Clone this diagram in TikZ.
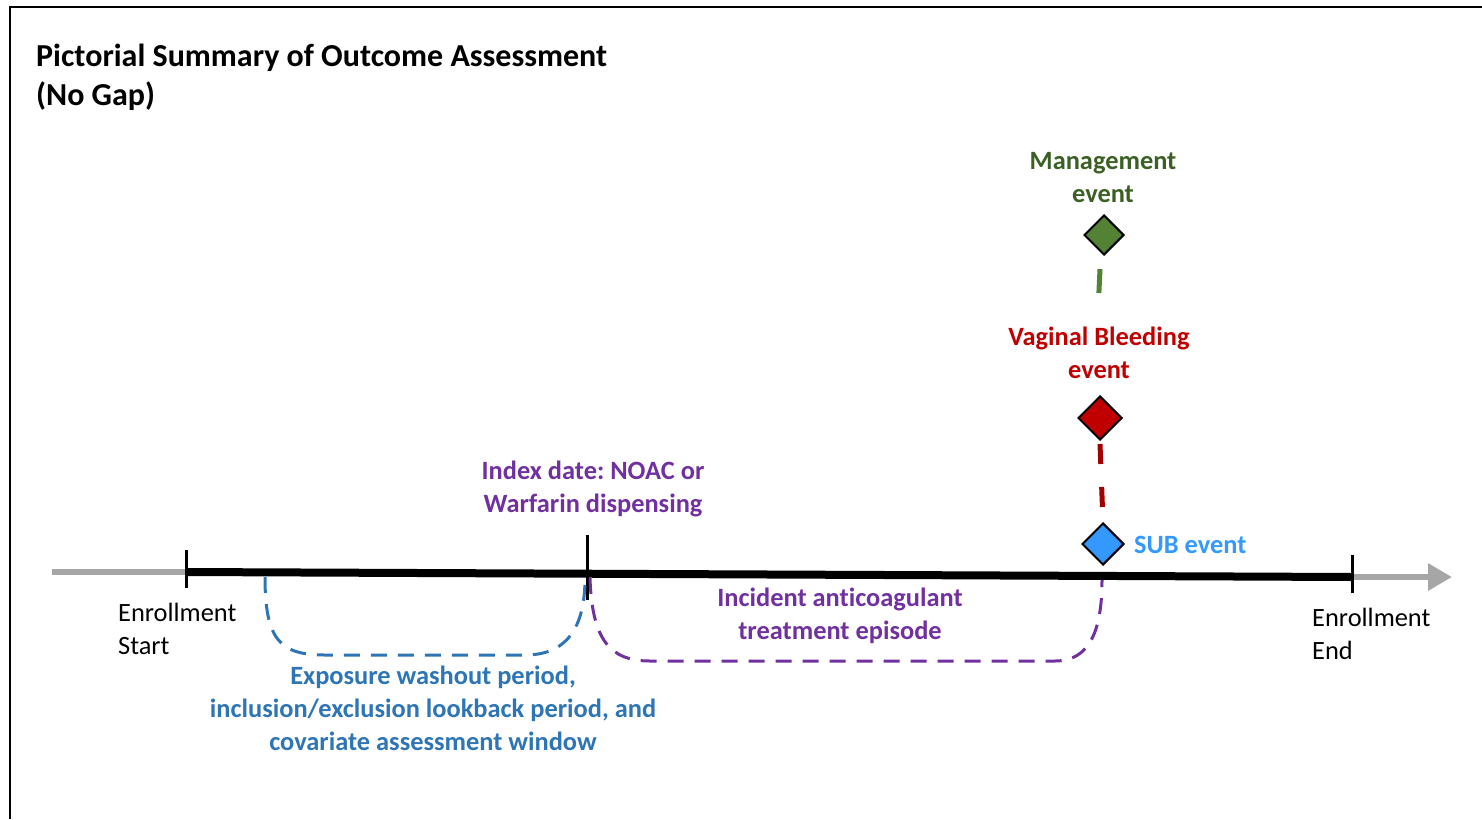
\documentclass[tikz,border=0pt]{standalone}
\usepackage{fontspec}
\setmainfont{Carlito}[Ligatures=NoCommon]
\frenchspacing
\usetikzlibrary{shapes.geometric,arrows.meta}
\definecolor{grn}{HTML}{3B5F24}
\definecolor{grnfill}{HTML}{548235}
\definecolor{rd}{HTML}{C00000}
\definecolor{rddash}{HTML}{A00000}
\definecolor{pur}{HTML}{7030A0}
\definecolor{blu}{HTML}{2E75B6}
\definecolor{sub}{HTML}{3399FF}
\definecolor{gry}{HTML}{A6A6A6}
\tikzset{
  lbl/.style={inner sep=0pt, align=center, font=\fontsize{26.4}{33}\selectfont\bfseries},
  plain/.style={inner sep=0pt, align=left, font=\fontsize{26.4}{33}\selectfont},
  evt/.style={diamond, draw=black, line width=2pt, inner sep=0pt, minimum width=40pt, minimum height=40pt},
  tick/.style={line width=3pt},
  win/.style={line width=3pt, dash pattern=on 16pt off 11pt},
}
\begin{document}
\begin{tikzpicture}[x=1pt,y=-1pt]
\useasboundingbox (0,0) rectangle (1482,819);
% frame
\draw[line width=2.5pt] (10,819) -- (10,7) -- (1482,7);
% title
\node[inner sep=0pt, align=left, anchor=north west, font=\fontsize{32}{39}\selectfont\bfseries] (title) at (36,44) {Pictorial Summary of Outcome Assessment\\(No Gap)};
% timeline
\coordinate (a0) at (52,572);
\coordinate (s) at (186,572);
\coordinate (e) at (1352,577);
\coordinate (a1) at (1452,577);
\draw[gry, line width=6pt] (a0) -- (s);
\draw[gry, line width=6pt, -{Triangle[length=24pt,width=26pt]}] (e) -- (a1);
\draw[line width=8pt] (s) -- (e);
\draw[tick] (186,550) -- (186,588);
\draw[tick] (587,535) -- (587,600);
\draw[tick] (1352,555) -- (1352,593);
% windows
\draw[blu, win] (265,577) .. controls (265,640) and (280,655) .. (325,655) -- (525,655) .. controls (565,655) and (585,630) .. (585,578);
\draw[pur, win] (590,578) .. controls (592,640) and (610,661) .. (650,661) -- (1055,661) .. controls (1090,661) and (1102,630) .. (1102,580);
% events
\node[evt, fill=sub, minimum width=42pt, minimum height=42pt] (subd) at (1103,544) {};
\node[evt, fill=rd, minimum width=44pt, minimum height=44pt] (red) at (1100,418) {};
\node[evt, fill=grnfill] (grnd) at (1104,235) {};
\draw[rddash, line width=5pt, dash pattern=on 20pt off 23pt] ([yshift=-3pt]red.south) -- (subd.north);
\coordinate (g1) at (1098,312);
\draw[grnfill, line width=5pt, dash pattern=on 24pt off 20pt] ([xshift=-4pt,yshift=-13pt]grnd.south) -- (g1);
% labels
\node[lbl, text=grn] (mgmt) at (1103,178) {Management\\event};
\node[lbl, text=rd] (vb) at (1099,353) {Vaginal Bleeding\\event};
\node[lbl, text=pur] (idx) at (593,489) {Index date: NOAC or\\Warfarin dispensing};
\node[lbl, text=sub, anchor=west] (subl) at (1134,545) {SUB event};
\node[lbl, text=pur] (inc) at (840,616) {Incident anticoagulant\\treatment episode};
\node[lbl, text=blu] (exp) at (433,708) {Exposure washout period,\\inclusion/exclusion lookback period, and\\covariate assessment window};
\node[plain, anchor=west] (es) at (118,629) {Enrollment\\Start};
\node[plain, anchor=west] (ee) at (1312,634) {Enrollment\\End};
\end{tikzpicture}
\end{document}
